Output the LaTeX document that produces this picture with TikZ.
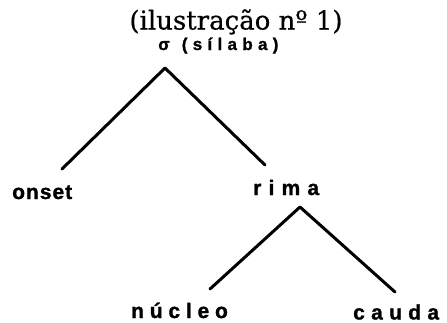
\documentclass[tikz,border=0pt]{standalone}
\usepackage{fontspec}
\setmainfont{DejaVu Serif}[UprightFeatures={FakeBold=0.6}]
\newfontfamily\lblfont{Liberation Sans}[BoldFeatures={FakeBold=1.2}]
\tikzset{
  lbl/.style={font=\lblfont\bfseries\fontsize{21}{21}\selectfont, inner sep=0pt, anchor=base west},
  sig/.style={font=\lblfont\bfseries\fontsize{17}{17}\selectfont, inner sep=0pt, anchor=base west},
  ttl/.style={font=\fontsize{26}{26}\selectfont, inner sep=0pt, anchor=base},
  branch/.style={line width=3pt, line cap=round, line join=round}
}
\newcommand{\ls}[1]{\kern#1pt\relax}
\begin{document}
\begin{tikzpicture}[x=1pt,y=-1pt]
\useasboundingbox (0,0) rectangle (447,322);
\node[ttl] (title) at (236,29.5) {(ilustração nº 1)};
\node[sig] (sigma) at (158,50) {σ\ls{12}(\ls{5.3}s\ls{5.3}í\ls{5.3}l\ls{5.3}a\ls{5.3}b\ls{5.3}a\ls{5.3})};
\node[lbl] (onset) at (12,199) {o\ls{1}n\ls{1}s\ls{1}e\ls{1}t};
\node[lbl] (rima) at (253,195) {r\ls{7.2}i\ls{7.2}m\ls{7.2}a};
\node[lbl] (nucleo) at (131,318) {n\ls{5.8}ú\ls{5.8}c\ls{5.8}l\ls{5.8}e\ls{5.8}o};
\node[lbl] (cauda) at (353,319.5) {c\ls{6.3}a\ls{6.3}u\ls{6.3}d\ls{6.3}a};
\coordinate (top1) at (165,68);
\coordinate (onsetend) at (62,169);
\coordinate (rimaend) at (265,165);
\coordinate (top2) at (300,207);
\coordinate (nucleoend) at (210,289);
\coordinate (caudaend) at (395,292);
\draw[branch] (onsetend) -- (top1) -- (rimaend);
\draw[branch] (nucleoend) -- (top2) -- (caudaend);
\end{tikzpicture}
\end{document}
